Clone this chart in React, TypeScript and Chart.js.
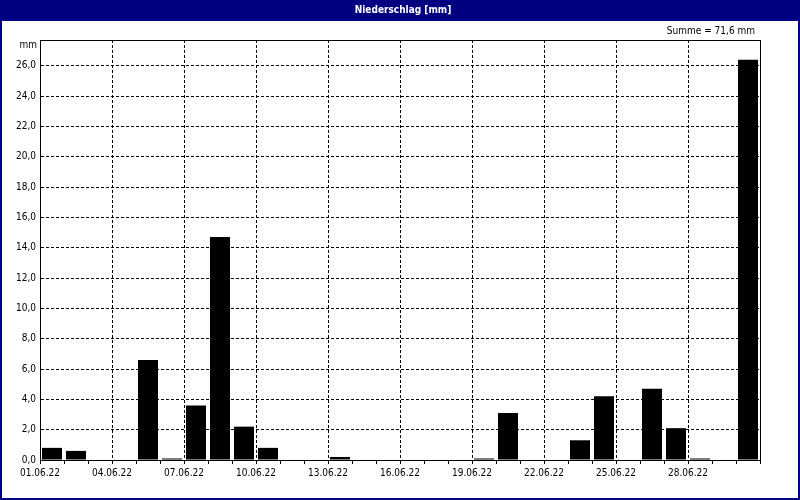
import React, { useEffect, useRef } from 'react';
import { Chart, registerables } from 'chart.js';

Chart.register(...registerables);

// ---- data ----
const dayLabels = [
  '01.06.22', '02.06.22', '03.06.22', '04.06.22', '05.06.22', '06.06.22',
  '07.06.22', '08.06.22', '09.06.22', '10.06.22', '11.06.22', '12.06.22',
  '13.06.22', '14.06.22', '15.06.22', '16.06.22', '17.06.22', '18.06.22',
  '19.06.22', '20.06.22', '21.06.22', '22.06.22', '23.06.22', '24.06.22',
  '25.06.22', '26.06.22', '27.06.22', '28.06.22', '29.06.22', '30.06.22',
];
const precipitation = [
  0.8, 0.6, 0, 0, 6.6, 0.1,
  3.6, 14.7, 2.2, 0.8, 0, 0,
  0.2, 0, 0, 0, 0, 0,
  0.1, 3.1, 0, 0, 1.3, 4.2,
  0, 4.7, 2.1, 0.1, 0, 26.4,
];
const xLabelEvery = 3;
const yMax = 27.7;
const yStep = 2;
const titleText = 'Niederschlag [mm]';
const unitText = 'mm';
const sumPrefix = 'Summe = ';

const FONT = "'DejaVu Sans Condensed', 'DejaVu Sans', sans-serif";
const NAVY = '#000080';

export default function App() {
  const ref = useRef<HTMLCanvasElement | null>(null);

  useEffect(() => {
    document.body.style.margin = '0';
    const canvas = ref.current!;
    const total = precipitation.reduce((a, b) => a + b, 0);
    const sumText = sumPrefix + total.toFixed(1).replace('.', ',') + ' ' + unitText;

    const framePlugin = {
      id: 'frame',
      beforeDraw(chart: any) {
        const { ctx, width, height } = chart;
        ctx.save();
        ctx.fillStyle = '#ffffff';
        ctx.fillRect(0, 0, width, height);
        ctx.fillStyle = NAVY;
        ctx.fillRect(0, 0, width, 21);
        ctx.strokeStyle = NAVY;
        ctx.lineWidth = 2;
        ctx.strokeRect(1, 1, width - 2, height - 2);
        ctx.fillStyle = '#ffffff';
        ctx.font = 'bold 10px ' + FONT;
        ctx.textAlign = 'center';
        ctx.textBaseline = 'middle';
        ctx.fillText(titleText, width / 2 + 3, 10);
        ctx.fillStyle = '#000000';
        ctx.font = '10px ' + FONT;
        ctx.textAlign = 'right';
        ctx.fillText(sumText, 755, 31);
        const a = chart.chartArea;
        ctx.fillText(unitText, a.left - 3, a.top + 5);
        ctx.restore();
      },
      afterDraw(chart: any) {
        const { ctx } = chart;
        const a = chart.chartArea;
        ctx.save();
        ctx.strokeStyle = '#000000';
        ctx.lineWidth = 1;
        ctx.strokeRect(a.left + 0.5, a.top + 0.5, a.right - a.left, a.bottom - a.top);
        ctx.restore();
      },
    };

    const chart = new Chart(canvas, {
      type: 'bar',
      data: {
        labels: dayLabels,
        datasets: [
          {
            data: precipitation.map((v, i) => ({ x: i + 0.5, y: v })),
            backgroundColor: '#000000',
            borderWidth: 0,
            barPercentage: 0.835,
            categoryPercentage: 1,
          },
        ],
      },
      options: {
        responsive: false,
        animation: false,
        devicePixelRatio: 1,
        layout: { padding: { top: 40, right: 40, left: 0, bottom: 0 } },
        plugins: {
          legend: { display: false },
          title: { display: false },
          tooltip: { enabled: false },
        },
        scales: {
          x: {
            type: 'linear',
            min: 0,
            max: dayLabels.length,
            offset: false,
            afterFit: (s: any) => { s.height = 40; },
            afterBuildTicks: (s: any) => {
              s.ticks = dayLabels.map((_, i) => ({ value: i })).concat([{ value: dayLabels.length }]);
            },
            ticks: {
              autoSkip: false,
              maxRotation: 0,
              minRotation: 0,
              color: '#000000',
              padding: 3,
              font: { family: FONT, size: 10 },
              callback: (v: any) => {
                const i = Number(v);
                return i % xLabelEvery === 0 && i < dayLabels.length ? dayLabels[i] : '';
              },
            },
            grid: {
              offset: false,
              color: (c: any) => {
                const v = c.tick ? c.tick.value : 0;
                return v % xLabelEvery === 0 && v !== 0 && v !== dayLabels.length ? '#000000' : 'rgba(0,0,0,0)';
              },
              tickColor: '#000000',
              tickLength: 4,
              tickBorderDash: [],
              lineWidth: 1,
            },
            border: { display: true, color: '#000000', dash: [3, 2] },
          },
          y: {
            type: 'linear',
            min: 0,
            max: yMax,
            afterFit: (s: any) => { s.width = 40; },
            ticks: {
              stepSize: yStep,
              includeBounds: false,
              color: '#000000',
              padding: 4,
              font: { family: FONT, size: 10 },
              callback: (v: any) => Number(v).toFixed(1).replace('.', ','),
            },
            grid: {
              drawTicks: false,
              color: (c: any) => (c.tick && c.tick.value !== 0 ? '#000000' : 'rgba(0,0,0,0)'),
              lineWidth: 1,
            },
            border: { display: true, color: '#000000', dash: [3, 2] },
          },
        },
      },
      plugins: [framePlugin],
    });
    return () => chart.destroy();
  }, []);

  return <canvas ref={ref} width={800} height={500} style={{ display: 'block' }} />;
}
